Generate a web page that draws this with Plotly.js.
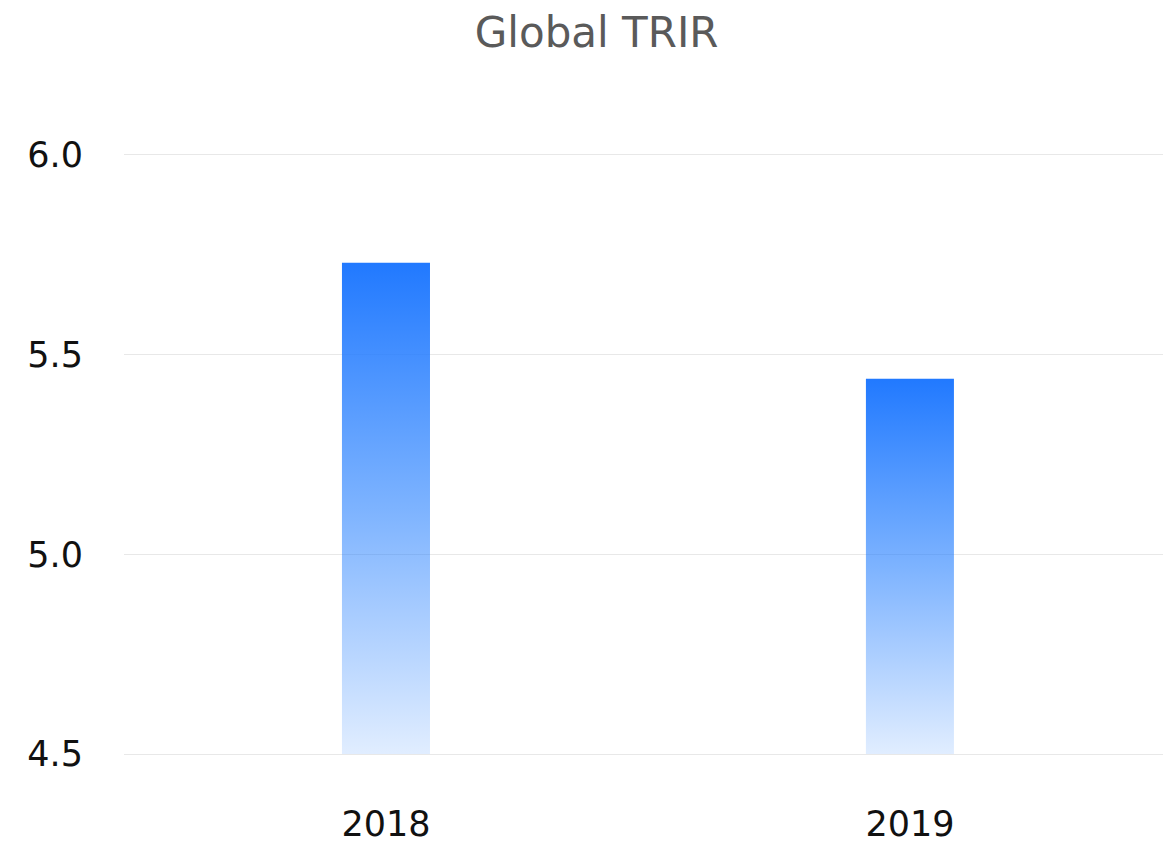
<!DOCTYPE html>
<html>
<head>
<meta charset="utf-8">
<script src="https://cdn.plot.ly/plotly-3.0.1.min.js"></script>
<style>html,body{margin:0;padding:0;background:#fff;}#chart{width:1163px;height:847px;}</style>
</head>
<body>
<div id="chart"></div>
<script>
const categories = ["2018", "2019"];
const trirValues = [5.73, 5.44];
const axisBase = 4.5;
const yTickValues = [4.5, 5.0, 5.5, 6.0];
const yTickLabels = ["4.5", "5.0", "5.5", "6.0"];
const chartTitle = "Global TRIR";

const FONT = "'DejaVu Sans', 'Open Sans', sans-serif";

const data = [{
  type: "bar",
  x: categories,
  y: trirValues.map(function (v) { return v - axisBase; }),
  base: axisBase,
  width: 0.168,
  marker: {color: "#2680FF", line: {width: 0}},
  hoverinfo: "skip"
}];

const layout = {
  width: 1163,
  height: 847,
  margin: {l: 124, r: 0, t: 151, b: 89},
  paper_bgcolor: "#ffffff",
  plot_bgcolor: "#ffffff",
  showlegend: false,
  title: {
    text: chartTitle,
    font: {family: FONT, size: 42, color: "#5a5a5a"},
    x: 0.513, xanchor: "center",
    y: 0.962, yanchor: "middle", xref: "container", yref: "container"
  },
  xaxis: {
    type: "category",
    range: [-0.5, 1.483],
    showgrid: false,
    zeroline: false,
    showline: false,
    ticks: "",
    ticklabelstandoff: 42,
    tickfont: {family: FONT, size: 35, color: "#111111"}
  },
  yaxis: {
    range: [4.49, 6.01],
    tickvals: yTickValues,
    ticktext: yTickLabels,
    showgrid: true,
    gridcolor: "#e8e8e8",
    gridwidth: 1,
    zeroline: false,
    showline: false,
    ticks: "",
    ticklabelstandoff: 40,
    tickfont: {family: FONT, size: 35, color: "#111111"}
  }
};

Plotly.newPlot("chart", data, layout, {displayModeBar: false, staticPlot: true}).then(function (gd) {
  const svgNS = "http://www.w3.org/2000/svg";
  const svg = gd.querySelector(".main-svg");
  let defs = svg.querySelector("defs");
  if (!defs) { defs = document.createElementNS(svgNS, "defs"); svg.insertBefore(defs, svg.firstChild); }
  const grad = document.createElementNS(svgNS, "linearGradient");
  grad.setAttribute("id", "barGrad");
  grad.setAttribute("x1", "0"); grad.setAttribute("y1", "0");
  grad.setAttribute("x2", "0"); grad.setAttribute("y2", "1");
  [["0%", "#2179FF", 1], ["50%", "#2680FF", 0.6], ["100%", "#2680FF", 0.14]].forEach(function (s) {
    const st = document.createElementNS(svgNS, "stop");
    st.setAttribute("offset", s[0]);
    st.setAttribute("stop-color", s[1]);
    st.setAttribute("stop-opacity", s[2]);
    grad.appendChild(st);
  });
  defs.appendChild(grad);
  gd.querySelectorAll(".trace.bars .point path").forEach(function (p) {
    p.style.fill = "url(#barGrad)";
    p.style.fillOpacity = 1;
  });
});
</script>
</body>
</html>
